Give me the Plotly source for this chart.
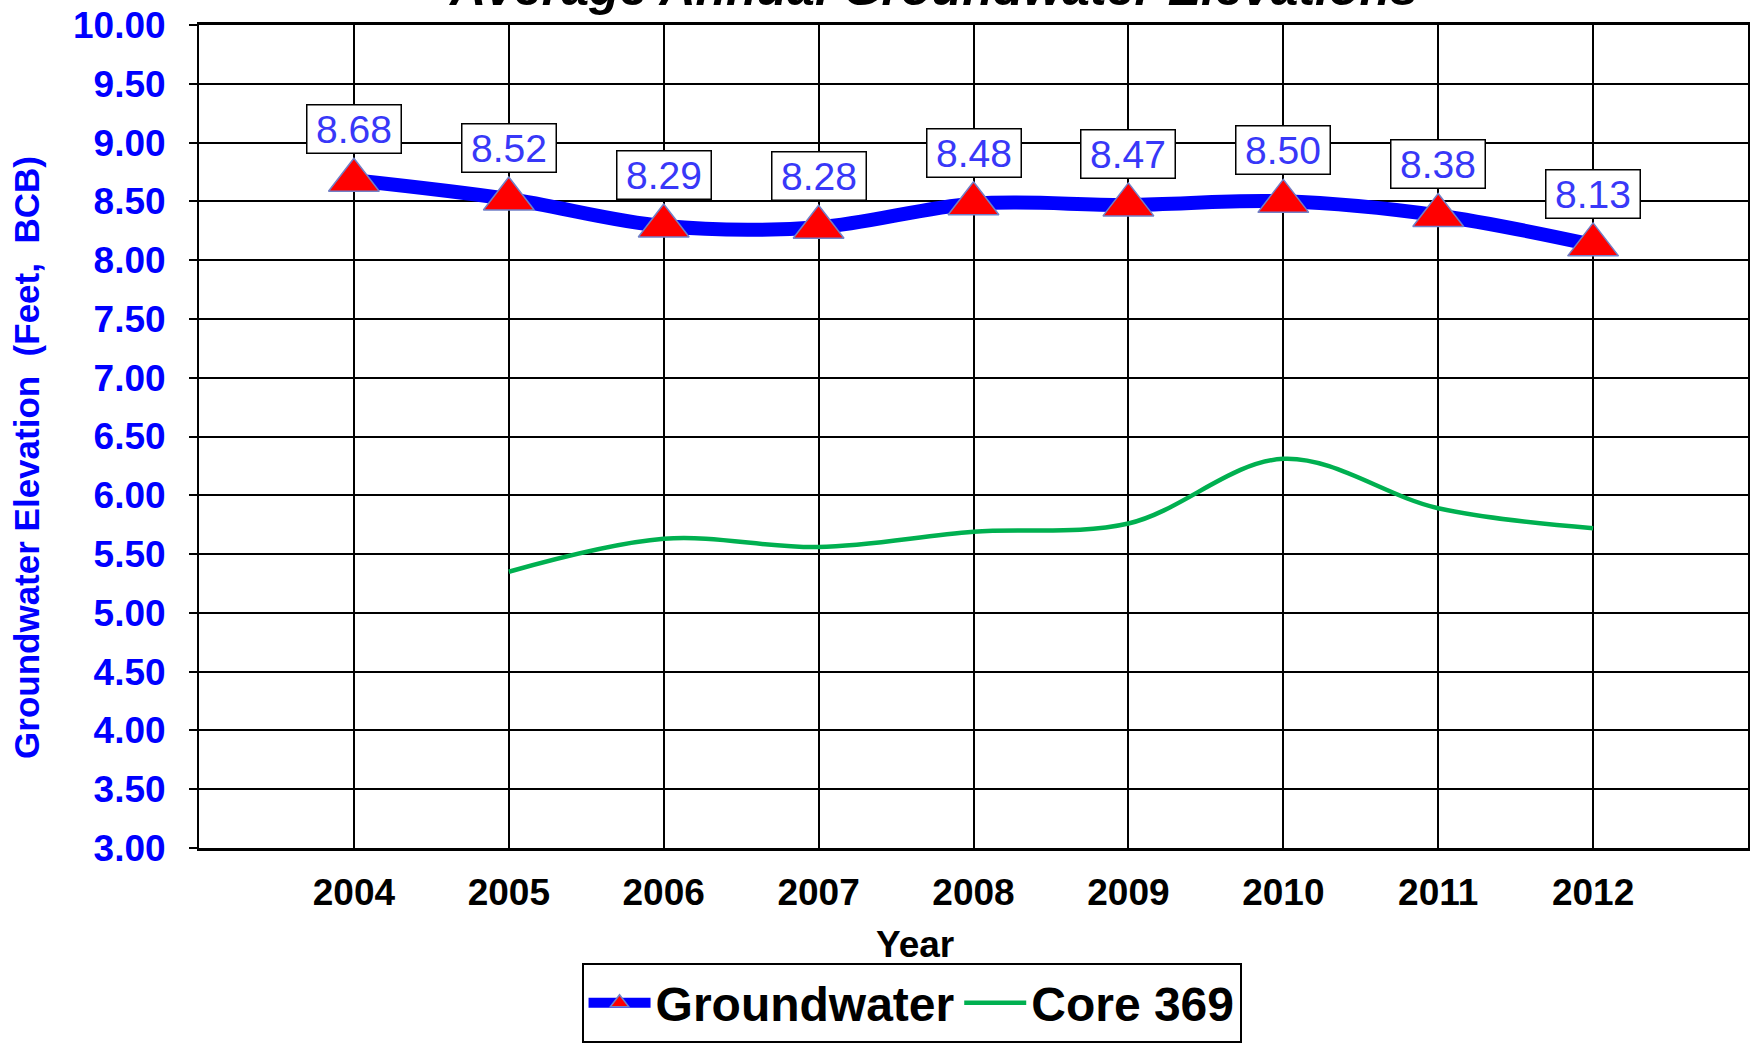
import plotly.graph_objects as go

years = [2004, 2005, 2006, 2007, 2008, 2009, 2010, 2011, 2012]
groundwater = [8.68, 8.52, 8.29, 8.28, 8.48, 8.47, 8.50, 8.38, 8.13]
core_years = [2005, 2006, 2007, 2008, 2009, 2010, 2011, 2012]
core369 = [5.35, 5.63, 5.56, 5.69, 5.76, 6.31, 5.89, 5.72]
y_ticks = [3.0 + 0.5 * i for i in range(15)]

FONT = "Liberation Sans, Arial, sans-serif"
BLUE_TXT = "#0000FF"

fig = go.Figure()

fig.add_trace(go.Scatter(
    x=core_years, y=core369, name="Core 369", mode="lines",
    line=dict(color="#00B050", width=4.5, shape="spline", smoothing=1.0),
))
fig.add_trace(go.Scatter(
    x=years, y=groundwater, name="Groundwater", mode="lines+markers",
    line=dict(color="#0000FF", width=14, shape="spline", smoothing=1.0),
    marker=dict(symbol="triangle-up", size=44, color="#FF0000",
                line=dict(color="#7080C8", width=1.5)),
))

annotations = []
for x, v in zip(years, groundwater):
    annotations.append(dict(
        x=x, y=v, xref="x", yref="y", text=f"{v:.2f}", showarrow=False,
        yshift=51, yanchor="middle", xanchor="center",
        font=dict(family=FONT, size=39, color="#3838F8"),
        bgcolor="white", bordercolor="black", borderwidth=1.5, borderpad=2,
        width=89, height=43,
    ))

# title (partially cut at top, as in the source)
annotations.append(dict(
    x=0.474, y=1, xref="paper", yref="paper", yanchor="middle", xanchor="center",
    yshift=37, showarrow=False, text="<b><i>Average Annual Groundwater Elevations</i></b>",
    font=dict(family=FONT, size=50, color="black"),
))
# y title
annotations.append(dict(
    x=-0.111, y=0.474, xref="paper", yref="paper", xanchor="center", yanchor="middle",
    textangle=-90, showarrow=False, text="<b>Groundwater Elevation  (Feet,  BCB)</b>",
    font=dict(family=FONT, size=35, color=BLUE_TXT),
))
# x title
annotations.append(dict(
    x=0.462, y=0, xref="paper", yref="paper", xanchor="center", yanchor="middle",
    yshift=-96, showarrow=False, text="<b>Year</b>",
    font=dict(family=FONT, size=37, color="black"),
))

fig.update_layout(
    template="none",
    width=1755, height=1045,
    margin=dict(l=199, r=7, t=25, b=197, autoexpand=False),
    paper_bgcolor="white", plot_bgcolor="white",
    font=dict(family=FONT),
    showlegend=True,
    legend=dict(
        orientation="h", x=0.46, xanchor="center", y=-0.2369, yanchor="bottom",
        font=dict(family=FONT, size=48, color="black", weight="bold"),
        bgcolor="white", bordercolor="black", borderwidth=2,
        traceorder="reversed", itemwidth=62,
    ),
    annotations=annotations,
)

fig.update_xaxes(
    automargin=False,
    range=[2003, 2013], tickvals=years, ticktext=[str(y) for y in years],
    showgrid=True, gridcolor="black", gridwidth=1.5,
    showline=True, linecolor="black", linewidth=2.5, mirror=True,
    ticks="", ticklabelstandoff=10, zeroline=False, ticklabeloverflow="allow",
    tickfont=dict(family=FONT, size=37, color="black", weight="bold"),
)
fig.update_yaxes(
    automargin=False,
    range=[3, 10], tickvals=y_ticks, tickformat=".2f",
    showgrid=True, gridcolor="black", gridwidth=1.8,
    showline=True, linecolor="black", linewidth=2, mirror=True,
    ticks="outside", ticklen=8, tickcolor="black", tickwidth=1.8,
    ticklabelstandoff=16, zeroline=False, ticklabeloverflow="allow",
    tickfont=dict(family=FONT, size=37, color=BLUE_TXT, weight="bold"),
)

fig.write_html(
    "out.html",
    config={"displayModeBar": False},
    post_script="document.body.style.margin='0';document.body.style.overflow='hidden';",
)
